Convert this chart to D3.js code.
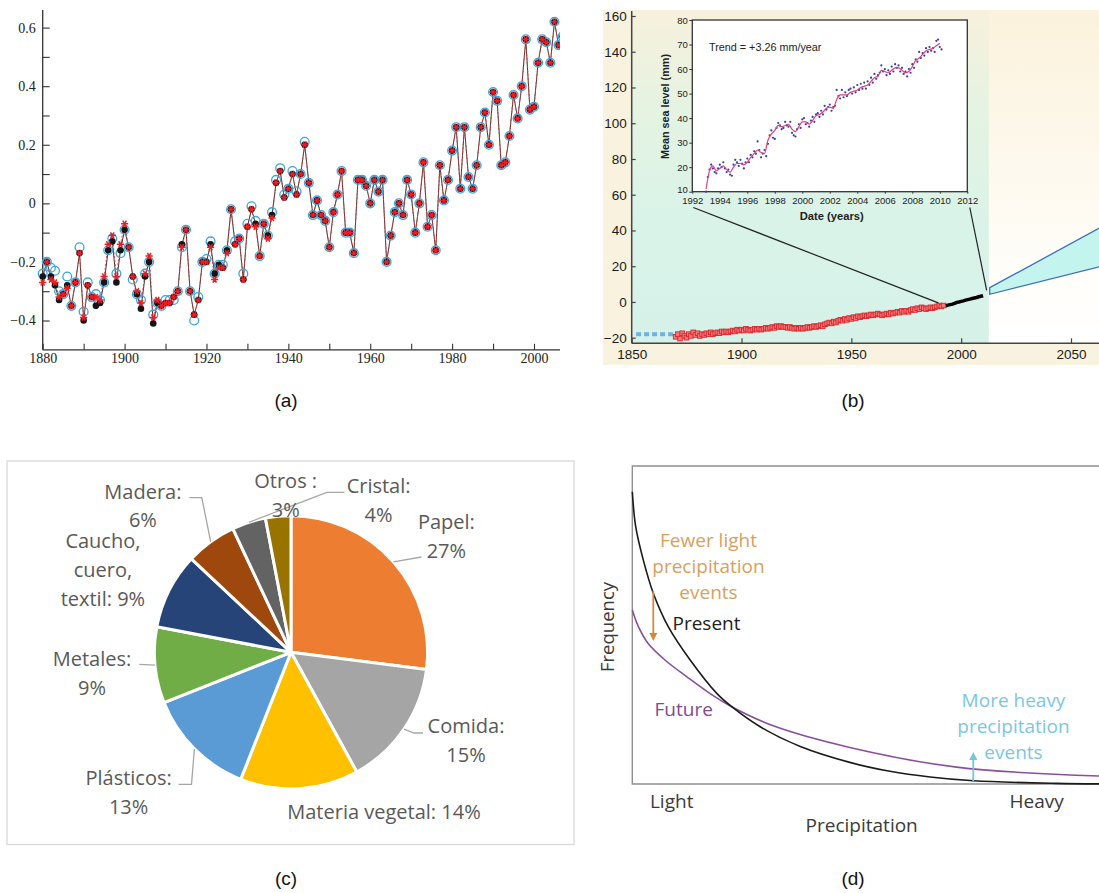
<!DOCTYPE html>
<html>
<head>
<meta charset="utf-8">
<script src="https://cdn.jsdelivr.net/npm/d3@7"></script>
<style>
  body { margin: 0; background: #fff; }
  svg { display: block; }
</style>
</head>
<body>
<div id="chart"></div>
<script>
// ---------- (a) temperature anomalies, one value per year from 1880
var anomStartYear = 1880;
var anomBlack = [
  -0.25,-0.20,-0.25,-0.28,-0.33,-0.31,-0.28,-0.35,-0.27,-0.17,
  -0.40,-0.28,-0.32,-0.35,-0.34,-0.27,-0.16,-0.13,-0.27,-0.16,
  -0.09,-0.15,-0.25,-0.31,-0.36,-0.25,-0.20,-0.41,-0.34,-0.35,
  -0.34,-0.34,-0.32,-0.30,-0.14,-0.09,-0.30,-0.38,-0.33,-0.20,
  -0.20,-0.14,-0.24,-0.21,-0.22,-0.16,-0.02,-0.14,-0.12,-0.26,
  -0.08,-0.02,-0.07,-0.18,-0.07,-0.11,-0.04,0.07,0.11,0.02,
  0.05,0.10,0.03,0.10,0.20,0.07,-0.04,0.01,-0.04,-0.06,
  -0.15,-0.03,0.03,0.11,-0.10,-0.10,-0.17,0.08,0.08,0.06,
  0.00,0.08,0.04,0.08,-0.20,-0.11,-0.03,0.00,-0.04,0.08,
  0.03,-0.10,0.00,0.14,-0.08,-0.04,-0.16,0.13,0.01,0.08,
  0.18,0.26,0.05,0.26,0.09,0.05,0.13,0.26,0.31,0.20,
  0.38,0.35,0.13,0.14,0.23,0.37,0.29,0.40,0.56,0.32,
  0.33,0.48,0.56,0.55,0.48,0.62,0.54,0.57];
var anomBlue = [
  -0.24,-0.20,-0.22,-0.23,-0.30,-0.31,-0.25,-0.35,-0.27,-0.15,
  -0.37,-0.27,-0.32,-0.31,-0.33,-0.27,-0.16,-0.12,-0.24,-0.17,
  -0.09,-0.15,-0.26,-0.31,-0.33,-0.24,-0.20,-0.38,-0.34,-0.35,
  -0.33,-0.33,-0.33,-0.30,-0.15,-0.09,-0.30,-0.40,-0.32,-0.20,
  -0.19,-0.13,-0.24,-0.21,-0.21,-0.16,-0.02,-0.13,-0.12,-0.24,
  -0.07,-0.01,-0.06,-0.18,-0.07,-0.11,-0.03,0.08,0.12,0.03,
  0.05,0.11,0.04,0.10,0.21,0.07,-0.04,0.01,-0.04,-0.06,
  -0.15,-0.03,0.03,0.11,-0.10,-0.10,-0.17,0.08,0.08,0.06,
  0.00,0.08,0.04,0.08,-0.20,-0.11,-0.03,0.00,-0.04,0.08,
  0.03,-0.10,0.00,0.14,-0.08,-0.04,-0.16,0.13,0.01,0.08,
  0.18,0.26,0.05,0.26,0.09,0.05,0.13,0.26,0.31,0.20,
  0.38,0.35,0.13,0.14,0.23,0.37,0.29,0.40,0.56,0.32,
  0.33,0.48,0.56,0.55,0.48,0.62,0.54,0.57];
var anomRed = [
  -0.27,-0.20,-0.26,-0.27,-0.32,-0.31,-0.29,-0.35,-0.27,-0.17,
  -0.39,-0.28,-0.32,-0.32,-0.33,-0.25,-0.14,-0.11,-0.25,-0.14,
  -0.07,-0.15,-0.25,-0.30,-0.34,-0.24,-0.18,-0.39,-0.33,-0.35,
  -0.34,-0.34,-0.32,-0.30,-0.15,-0.09,-0.30,-0.38,-0.33,-0.20,
  -0.20,-0.15,-0.26,-0.22,-0.22,-0.17,-0.02,-0.14,-0.12,-0.26,
  -0.08,-0.02,-0.08,-0.18,-0.07,-0.12,-0.05,0.07,0.11,0.02,
  0.05,0.10,0.03,0.10,0.20,0.07,-0.04,0.01,-0.04,-0.06,
  -0.15,-0.03,0.03,0.11,-0.10,-0.10,-0.17,0.08,0.08,0.06,
  0.00,0.08,0.04,0.08,-0.20,-0.11,-0.03,0.00,-0.04,0.08,
  0.03,-0.10,0.00,0.14,-0.08,-0.04,-0.16,0.13,0.01,0.08,
  0.18,0.26,0.05,0.26,0.09,0.05,0.13,0.26,0.31,0.20,
  0.38,0.35,0.13,0.14,0.23,0.37,0.29,0.40,0.56,0.32,
  0.33,0.48,0.56,0.55,0.48,0.62,0.54,0.57];
var anomTickAll = [-0.4,-0.3,-0.2,-0.1,0,0.1,0.2,0.3,0.4,0.5,0.6];
var anomTickLabels = [-0.4,-0.2,0,0.2,0.4,0.6];
var anomYearTicks = [1880,1890,1900,1910,1920,1930,1940,1950,1960,1970,1980,1990,2000];
var anomYearLabels = [1880,1900,1920,1940,1960,1980,2000];

// ---------- (b) sea level, tide gauges (red, yearly from 1870), altimetry (black), projection
var seaEarlyYears = [1852, 1869];
var seaEarly = [-18, -18];
var seaRedStartYear = 1870;
var seaRed = [
  -19.5,-18,-20.5,-17.5,-19,-20,-18,-19,-17,-18.5,
  -17.5,-19,-18,-18.5,-17.5,-18,-17,-18,-17.5,-17,
  -17.5,-16.5,-17,-16.5,-17,-16.5,-16,-16.5,-15.5,-16,
  -15.5,-16,-15,-15.5,-16,-15.5,-15,-15.5,-15,-15.5,
  -15,-14.5,-15,-14.5,-14,-14.5,-13.5,-14,-13.5,-14,
  -14,-14.5,-14,-14.5,-15,-14.5,-15,-14.5,-15,-14.5,
  -14,-14.5,-14,-13.5,-14,-13.5,-13,-13.5,-12.5,-12,
  -11.5,-12,-11,-11.5,-10.5,-10,-10.5,-9.5,-10,-9,
  -9.5,-8.5,-9,-8,-8.5,-8,-7.5,-8,-7.5,-7,
  -7.5,-7,-6.5,-7,-7.5,-7,-6.5,-7,-6,-6.5,
  -6,-5.5,-6,-5,-5.5,-5,-5.5,-4.5,-4,-4.5,
  -3.5,-4,-3,-3.5,-4,-3.5,-3,-3.5,-3,-2.5,
  -2,-2.5,-2];
var seaBlackStartYear = 1993;
var seaBlack = [-2.2,-1.8,-1.5,-1.2,-0.8,-0.2,0,0.3,0.6,1,1.3,1.6,1.9,2.2,2.5,2.9,3.2,3.5];
var coneYears = [2013, 2065];
var coneHigh = [8, 42.7];
var coneLow = [4.3, 20.3];
var seaTicksY = [-20,0,20,40,60,80,100,120,140,160];
var seaTicksX = [1850,1900,1950,2000,2050];

// inset: smoothed curve every quarter year, points every eighth of a year, from 1993
var insetStartYear = 1993;
var insetCurve = [
  11,18.5,20.5,18.5,19.5,20.5,19,18,20,21.5,21.5,21,22,24,25.5,27,26,25.5,31,33.5,
  35,37,36.5,37,37.5,35.5,34.5,36.5,38.5,38.5,37.5,39,41,41.5,42.5,44,44.5,44,47.5,49.5,
  49.5,49.5,50.5,51,51.5,52.5,53,53.5,55,56.5,57,59.5,59,58.5,59.5,60.5,60.5,59.5,58.5,59,
  61,63.5,64.5,66,67.5,68,68.5,69.5,70.5];
var insetPoints = [
  10,16,19,21,19.5,18,17.5,19.5,21,20,22,19.5,18,19,17,16.5,21,23,22,20.5,
  23,21.5,19.5,22,23.5,22,25,24,26.5,25.5,30.5,27,24,25.5,27,24.5,29.5,33,35,32,
  31.5,36,38,37,35.5,36,38.5,37,36.5,38.5,34,33,32.5,35.5,37.5,36,39.5,40,37.5,38,
  36.5,39,40.5,38.5,41.5,42,40.5,43,41.5,45,43.5,44.5,45.5,43,44.5,45,51.5,49,48,51.5,
  48.5,50.5,49,51.5,52,50,52.5,50.5,53.5,51.5,54,52,54.5,52,55,53.5,56.5,54.5,58,56,
  57.5,58.5,61.5,59,60,57.5,59.5,58,61,59,62,60.5,61.5,59,60.5,58,59,57,60,58.5,
  62,60.5,64,63,67,64.5,66.5,65.5,68.5,67,69,67.5,68.5,67,71.5,72,69,68];
var insetTicksY = [10,20,30,40,50,60,70,80];
var insetTicksX = [1992,1994,1996,1998,2000,2002,2004,2006,2008,2010,2012];

// ---------- (c) waste composition (%)
var wasteNames = ["Papel","Comida","Materia vegetal","Plásticos","Metales","Caucho, cuero, textil","Madera","Cristal","Otros"];
var wasteShare = [27, 15, 14, 13, 9, 9, 6, 4, 3];
var wasteColors = ["#ED7D31","#A5A5A5","#FFC000","#5B9BD5","#70AD47","#264478","#9E480E","#636363","#997300"];
var wasteLabelLines = [
  ["Papel:", "27%"], ["Comida:", "15%"], ["Materia vegetal: 14%"], ["Plásticos:", "13%"],
  ["Metales:", "9%"], ["Caucho,", "cuero,", "textil: 9%"], ["Madera:", "6%"], ["Cristal:", "4%"], ["Otros :", "3%"]];

// ---------- (d) precipitation frequency (relative units 0-100)
var presentX = [0, 0.73, 2.36, 4.5, 7.7, 12.4, 18.1, 21.3, 27.4, 36.0, 46.6, 55.2, 63.8, 73.1, 90.9, 100];
var presentFreq = [91.9, 80.9, 70.4, 60.0, 49.5, 39.0, 28.5, 24.3, 18.0, 11.8, 6.8, 4.0, 2.2, 1.0, 0.2, 0.05];
var futureX = [0, 1.3, 3.4, 7.0, 11.7, 16.6, 21.3, 30.2, 46.6, 69.5, 100];
var futureFreq = [54.7, 49.5, 44.2, 39.0, 33.7, 28.5, 24.3, 18.3, 11.5, 5.3, 2.5];

// =====================================================================
var svg = d3.select("#chart").append("svg")
  .attr("width", 1099).attr("height", 893)
  .style("font-family", "'Liberation Sans', Arial, sans-serif");
svg.append("rect").attr("width", 1099).attr("height", 893).attr("fill", "#fff");
var defs = svg.append("defs");

function panelLabel(txt, x, y) {
  svg.append("text").attr("x", x).attr("y", y).attr("text-anchor", "middle")
    .attr("font-size", 19).attr("fill", "#111").text(txt);
}

// ---------------- panel (a)
(function () {
  var g = svg.append("g").style("font-family", "'Liberation Serif', 'Times New Roman', serif");
  var x = d3.scaleLinear().domain([1880, 2000]).range([42.7, 534]);
  var y = d3.scaleLinear().domain([-0.4, 0.6]).range([320.5, 27.6]);
  var left = 42.7, right = 560, top = y(0.66), bottom = y(-0.5);
  var fmt = d3.format(".1f");

  g.append("g").attr("transform", "translate(" + left + ",0)")
    .call(d3.axisLeft(y).tickValues(anomTickAll).tickSize(-7).tickPadding(7)
      .tickFormat(function (d) { return anomTickLabels.indexOf(d) >= 0 ? (d === 0 ? "0" : fmt(d)) : ""; }))
    .call(function (a) { a.select(".domain").remove(); })
    .call(function (a) {
      a.selectAll("line").attr("stroke", "#333").attr("stroke-width", 1.1);
      a.selectAll("text").attr("font-size", 14).attr("fill", "#222").attr("font-family", "'Liberation Serif', serif");
    });
  g.append("g").attr("transform", "translate(0," + bottom + ")")
    .call(d3.axisBottom(x).tickValues(anomYearTicks).tickSize(-6).tickPadding(3.5)
      .tickFormat(function (d) { return anomYearLabels.indexOf(d) >= 0 ? d : ""; }))
    .call(function (a) { a.select(".domain").remove(); })
    .call(function (a) {
      a.selectAll("line").attr("stroke", "#333").attr("stroke-width", 1.1);
      a.selectAll("text").attr("font-size", 14).attr("fill", "#222").attr("font-family", "'Liberation Serif', serif");
    });
  g.append("line").attr("x1", left).attr("x2", left).attr("y1", top).attr("y2", bottom).attr("stroke", "#333").attr("stroke-width", 1.3);
  g.append("line").attr("x1", left).attr("x2", right).attr("y1", bottom).attr("y2", bottom).attr("stroke", "#333").attr("stroke-width", 1.3);

  defs.append("clipPath").attr("id", "clipA").append("rect")
    .attr("x", left - 8).attr("y", 0).attr("width", right - left + 8).attr("height", bottom);
  var p = g.append("g").attr("clip-path", "url(#clipA)");

  function pts(arr) { return arr.map(function (v, i) { return [anomStartYear + i, v]; }); }
  var line = d3.line().x(function (d) { return x(d[0]); }).y(function (d) { return y(d[1]); });

  p.append("path").attr("d", line(pts(anomBlack))).attr("fill", "none").attr("stroke", "#222").attr("stroke-width", 0.9);
  p.append("path").attr("d", line(pts(anomRed))).attr("fill", "none").attr("stroke", "#e33").attr("stroke-width", 0.9).attr("stroke-dasharray", "2,2");

  p.selectAll("circle.blue").data(pts(anomBlue)).join("circle").attr("class", "blue")
    .attr("cx", function (d) { return x(d[0]); }).attr("cy", function (d) { return y(d[1]); })
    .attr("r", 4.4).attr("fill", "none").attr("stroke", "#39a6dc").attr("stroke-width", 1.3);
  p.selectAll("circle.black").data(pts(anomBlack)).join("circle").attr("class", "black")
    .attr("cx", function (d) { return x(d[0]); }).attr("cy", function (d) { return y(d[1]); })
    .attr("r", 3.3).attr("fill", "#151515");
  var star = "M-3.6,0H3.6M-1.8,-3.1L1.8,3.1M-1.8,3.1L1.8,-3.1";
  p.selectAll("path.star").data(pts(anomRed)).join("path").attr("class", "star")
    .attr("transform", function (d) { return "translate(" + x(d[0]) + "," + y(d[1]) + ")"; })
    .attr("d", star).attr("stroke", "#ee1c24").attr("stroke-width", 1.5).attr("fill", "none");
})();
panelLabel("(a)", 286, 407);

// ---------------- panel (b)
(function () {
  var g = svg.append("g");
  var x = d3.scaleLinear().domain([1850, 2050]).range([631.7, 1071]);
  var y = d3.scaleLinear().domain([-20, 160]).range([337.7, 16]);
  var pL = 603, pT = 10, pR = 1099, pB = 365;
  var axL = 631.7, axB = 343.3, split = x(2012.6);

  var gl = defs.append("linearGradient").attr("id", "bgGreen").attr("x1", 0).attr("x2", 0).attr("y1", 0).attr("y2", 1);
  gl.append("stop").attr("offset", "0").attr("stop-color", "#f7f1dc");
  gl.append("stop").attr("offset", "0.3").attr("stop-color", "#e5f3e2");
  gl.append("stop").attr("offset", "0.65").attr("stop-color", "#d9f3e9");
  gl.append("stop").attr("offset", "1").attr("stop-color", "#d6f2e8");
  var gr = defs.append("linearGradient").attr("id", "bgRight").attr("x1", 0).attr("x2", 0).attr("y1", 0).attr("y2", 1);
  gr.append("stop").attr("offset", "0").attr("stop-color", "#fbf2dc");
  gr.append("stop").attr("offset", "0.75").attr("stop-color", "#fffdf8");
  gr.append("stop").attr("offset", "1").attr("stop-color", "#ffffff");

  g.append("rect").attr("x", pL).attr("y", pT).attr("width", pR - pL).attr("height", pB - pT).attr("fill", "#f8f2df");
  g.append("rect").attr("x", axL).attr("y", pT).attr("width", split - axL).attr("height", axB - pT).attr("fill", "url(#bgGreen)");
  g.append("rect").attr("x", split).attr("y", pT).attr("width", pR - split).attr("height", axB - pT).attr("fill", "url(#bgRight)");

  defs.append("clipPath").attr("id", "clipB").append("rect")
    .attr("x", pL).attr("y", pT).attr("width", pR - pL).attr("height", pB - pT);
  var p = g.append("g").attr("clip-path", "url(#clipB)");

  // projection cone
  var cone = [[coneYears[0], coneHigh[0]], [coneYears[1], coneHigh[1]], [coneYears[1], coneLow[1]], [coneYears[0], coneLow[0]]];
  p.append("path").attr("d", "M" + cone.map(function (d) { return x(d[0]) + "," + y(d[1]); }).join("L") + "Z")
    .attr("fill", "#c3f4ed").attr("stroke", "#3c70b5").attr("stroke-width", 1.3);

  // early estimate
  p.append("line").attr("x1", x(seaEarlyYears[0])).attr("x2", x(seaEarlyYears[1]))
    .attr("y1", y(seaEarly[0])).attr("y2", y(seaEarly[1]))
    .attr("stroke", "#6eb2e3").attr("stroke-width", 4).attr("stroke-dasharray", "5,3");

  // tide gauges
  var red = seaRed.map(function (v, i) { return [seaRedStartYear + i, v]; });
  p.selectAll("rect.red").data(red).join("rect").attr("class", "red")
    .attr("x", function (d) { return x(d[0]) - 2.3; }).attr("y", function (d) { return y(d[1]) - 2.3; })
    .attr("width", 4.6).attr("height", 4.6).attr("fill", "#f27a7a").attr("stroke", "#d9262c").attr("stroke-width", 0.9);

  // altimetry
  var blk = seaBlack.map(function (v, i) { return [seaBlackStartYear + i, v]; });
  p.append("path").attr("d", d3.line().x(function (d) { return x(d[0]); }).y(function (d) { return y(d[1]); })(blk))
    .attr("fill", "none").attr("stroke", "#000").attr("stroke-width", 3.5);

  // axes
  g.append("g").attr("transform", "translate(" + axL + ",0)")
    .call(d3.axisLeft(y).tickValues(seaTicksY).tickSize(-4).tickPadding(5))
    .call(function (a) { a.select(".domain").remove(); })
    .call(function (a) {
      a.selectAll("line").attr("stroke", "#444").attr("stroke-width", 1.2);
      a.selectAll("text").attr("font-size", 13.5).attr("fill", "#1a1a1a").attr("font-family", "'Liberation Sans', Arial, sans-serif");
    });
  g.append("g").attr("transform", "translate(0," + axB + ")")
    .call(d3.axisBottom(x).tickValues(seaTicksX).tickSize(-5).tickPadding(6.5).tickFormat(d3.format("d")))
    .call(function (a) { a.select(".domain").remove(); })
    .call(function (a) {
      a.selectAll("line").attr("stroke", "#444").attr("stroke-width", 1.2);
      a.selectAll("text").attr("font-size", 13.5).attr("fill", "#1a1a1a").attr("font-family", "'Liberation Sans', Arial, sans-serif");
    });
  g.append("line").attr("x1", axL).attr("x2", axL).attr("y1", pT + 1).attr("y2", axB).attr("stroke", "#444").attr("stroke-width", 1.5);
  g.append("line").attr("x1", axL).attr("x2", pR).attr("y1", axB).attr("y2", axB).attr("stroke", "#444").attr("stroke-width", 1.5);

  // inset
  var ix = d3.scaleLinear().domain([1992, 2012]).range([692.3, 967.3]);
  var iy = d3.scaleLinear().domain([10, 80]).range([191.7, 20]);
  g.append("rect").attr("x", ix(1992)).attr("y", iy(80)).attr("width", ix(2012) - ix(1992)).attr("height", iy(10) - iy(80))
    .attr("fill", "#fff").attr("stroke", "#333").attr("stroke-width", 1.3);

  // connectors from inset to the record
  g.append("line").attr("x1", ix(1992) + 1).attr("y1", 207.5).attr("x2", x(1989.6)).attr("y2", y(-0.5))
    .attr("stroke", "#222").attr("stroke-width", 1.2);
  g.append("line").attr("x1", ix(2012) + 2.5).attr("y1", 207.5).attr("x2", x(2011.6)).attr("y2", y(6.5))
    .attr("stroke", "#222").attr("stroke-width", 1.2);

  var ig = g.append("g");
  ig.append("g").attr("transform", "translate(" + ix(1992) + ",0)")
    .call(d3.axisLeft(iy).tickValues(insetTicksY).tickSize(3).tickPadding(1.5))
    .call(function (a) { a.select(".domain").remove(); })
    .call(function (a) {
      a.selectAll("line").attr("stroke", "#333");
      a.selectAll("text").attr("font-size", 9.5).attr("fill", "#222").attr("font-family", "'Liberation Sans', Arial, sans-serif");
      a.selectAll("text").filter(function (d) { return d === 10; }).attr("dy", "0.1em");
    });
  ig.append("g").attr("transform", "translate(0," + iy(10) + ")")
    .call(d3.axisBottom(ix).tickValues(insetTicksX).tickSize(2).tickPadding(3.5).tickFormat(d3.format("d")))
    .call(function (a) { a.select(".domain").remove(); })
    .call(function (a) {
      a.selectAll("line").attr("stroke", "#333");
      a.selectAll("text").attr("font-size", 9.5).attr("fill", "#222").attr("font-family", "'Liberation Sans', Arial, sans-serif");
    });

  var ipts = insetPoints.map(function (v, i) { return [insetStartYear + i / 8, v]; });
  var icur = insetCurve.map(function (v, i) { return [insetStartYear + i / 4, v]; });
  ig.selectAll("circle").data(ipts).join("circle")
    .attr("cx", function (d) { return ix(d[0]); }).attr("cy", function (d) { return iy(d[1]); })
    .attr("r", 1.1).attr("fill", "#3b3ba8");
  ig.append("path").attr("d", d3.line().curve(d3.curveMonotoneX)
      .x(function (d) { return ix(d[0]); }).y(function (d) { return iy(d[1]); })(icur))
    .attr("fill", "none").attr("stroke", "#e2407a").attr("stroke-width", 1.2);

  ig.append("text").attr("x", 709).attr("y", 50.5).attr("font-size", 10.8).attr("fill", "#222").text("Trend = +3.26 mm/year");
  ig.append("text").attr("x", 831.7).attr("y", 220).attr("text-anchor", "middle")
    .attr("font-size", 11.2).attr("font-weight", "bold").attr("fill", "#222").text("Date (years)");
  ig.append("text").attr("transform", "translate(669,106.5) rotate(-90)").attr("text-anchor", "middle")
    .attr("font-size", 10.8).attr("font-weight", "bold").attr("fill", "#222").text("Mean sea level (mm)");
})();
panelLabel("(b)", 853, 407);

// ---------------- panel (c)
(function () {
  var g = svg.append("g").style("font-family", "'Open Sans', 'Noto Sans', sans-serif");
  g.append("rect").attr("x", 7).attr("y", 461).attr("width", 567).attr("height", 383.5)
    .attr("fill", "#fff").attr("stroke", "#d9d9d9").attr("stroke-width", 1.3);
  var cx = 291, cy = 652.3, r = 136.6;
  var arcs = d3.pie().sort(null).value(function (d) { return d; })(wasteShare);
  var arc = d3.arc().innerRadius(0).outerRadius(r);
  g.append("g").attr("transform", "translate(" + cx + "," + cy + ")")
    .selectAll("path").data(arcs).join("path")
    .attr("d", arc).attr("fill", function (d, i) { return wasteColors[i]; })
    .attr("stroke", "#fff").attr("stroke-width", 3).attr("stroke-linejoin", "round");

  function edge(i) {
    var a = (arcs[i].startAngle + arcs[i].endAngle) / 2;
    return [cx + r * Math.sin(a), cy - r * Math.cos(a)];
  }
  // label layout: anchor index, centre x, first baseline, line gap, optional leader bend points
  var layout = [
    { i: 0, x: 446.4, y: 529, lead: [[421.5, 557]] },
    { i: 1, x: 466, y: 732.5, lead: [[414, 733], [423, 733]] },
    { i: 2, x: 384, y: 819 },
    { i: 3, x: 128.6, y: 785, lead: [[191.5, 784.3], [178.6, 784.3]] },
    { i: 4, x: 92, y: 666, lead: [[139.3, 664.3]] },
    { i: 5, x: 102.9, y: 547.5 },
    { i: 6, x: 142.9, y: 499, gap: 27.5, lead: [[201.8, 497.7], [189.3, 497.7]] },
    { i: 7, x: 378.6, y: 492.5, lead: [[326.8, 492.3], [344.6, 492.3]] },
    { i: 8, x: 285.7, y: 488 }
  ];
  layout.forEach(function (l) {
    if (l.lead) {
      g.append("path").attr("d", d3.line()([edge(l.i)].concat(l.lead)))
        .attr("fill", "none").attr("stroke", "#a6a6a6").attr("stroke-width", 1.3);
    }
  });
  layout.forEach(function (l) {
    var t = g.append("text").attr("text-anchor", "middle").attr("font-size", 20).attr("fill", "#595959");
    wasteLabelLines[l.i].forEach(function (s, k) {
      t.append("tspan").attr("x", l.x).attr("y", l.y + k * (l.gap || 29.3)).text(s);
    });
  });
})();
panelLabel("(c)", 286, 885);

// ---------------- panel (d)
(function () {
  var g = svg.append("g").style("font-family", "'Open Sans', 'Noto Sans', sans-serif");
  var x = d3.scaleLinear().domain([0, 100]).range([632.3, 1099]);
  var y = d3.scaleLinear().domain([0, 100]).range([784, 466]);
  g.append("path").attr("d", "M1100," + y(100) + "H" + x(0) + "V" + y(0) + "H1100")
    .attr("fill", "none").attr("stroke", "#8f8f8f").attr("stroke-width", 1.4);

  var ln = d3.line().curve(d3.curveCatmullRom.alpha(0.5));
  g.append("path").attr("d", ln(futureX.map(function (v, i) { return [x(v), y(futureFreq[i])]; })))
    .attr("fill", "none").attr("stroke", "#8a4f9a").attr("stroke-width", 1.6);
  g.append("path").attr("d", ln(presentX.map(function (v, i) { return [x(v), y(presentFreq[i])]; })))
    .attr("fill", "none").attr("stroke", "#1a1a1a").attr("stroke-width", 1.6);

  // arrows
  function arrow(xp, y1, y2, col) {
    var dir = y2 > y1 ? 1 : -1;
    g.append("line").attr("x1", xp).attr("x2", xp).attr("y1", y1).attr("y2", y2 - dir * 6)
      .attr("stroke", col).attr("stroke-width", 1.8);
    g.append("path").attr("d", "M" + (xp - 4) + "," + (y2 - dir * 8) + "L" + xp + "," + y2 + "L" + (xp + 4) + "," + (y2 - dir * 8) + "Z")
      .attr("fill", col);
  }
  arrow(653.3, 591, 641, "#cf8d3c");
  arrow(973.3, 781, 752, "#79c3dc");

  function lines(arr, cxp, y0, col, anchor) {
    var t = g.append("text").attr("text-anchor", anchor || "middle").attr("font-size", 19).attr("fill", col);
    arr.forEach(function (s, k) { t.append("tspan").attr("x", cxp).attr("y", y0 + k * 26).text(s); });
  }
  lines(["Fewer light", "precipitation", "events"], 708.5, 546.5, "#d7a15c");
  lines(["Present"], 672.5, 630, "#222", "start");
  lines(["Future"], 654.5, 715.5, "#7e4b92", "start");
  lines(["More heavy", "precipitation", "events"], 1013.5, 707, "#7cc6df");
  lines(["Light"], 671.7, 808, "#3a3a3a");
  lines(["Heavy"], 1036.7, 808, "#3a3a3a");
  lines(["Precipitation"], 861.7, 832, "#3a3a3a");
  g.append("text").attr("transform", "translate(614,627) rotate(-90)").attr("text-anchor", "middle")
    .attr("font-size", 18.5).attr("fill", "#3a3a3a").text("Frequency");
})();
panelLabel("(d)", 853, 885);
</script>
</body>
</html>
